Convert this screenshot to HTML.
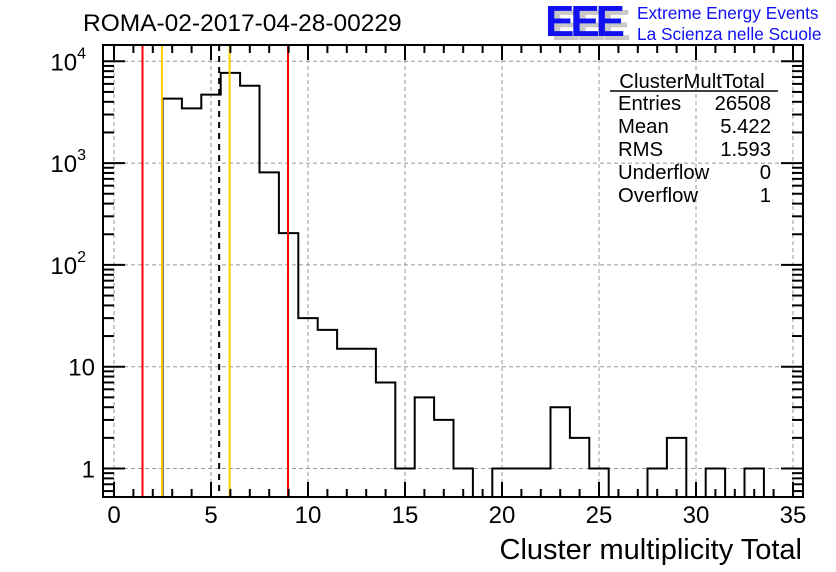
<!DOCTYPE html>
<html><head><meta charset="utf-8"><style>
body{margin:0;background:#fff;width:836px;height:572px;overflow:hidden}
svg{display:block;font-family:"Liberation Sans",sans-serif}
</style></head><body>
<svg id="chart" width="836" height="572" viewBox="0 0 836 572">
<rect width="836" height="572" fill="#fff"/>
<text x="83" y="31" font-size="24.5">ROMA-02-2017-04-28-00229</text>
<g>
<text x="551" y="40" font-size="44" font-weight="bold" fill="#c8c8c8" textLength="80">EEE</text>
<text x="545" y="36" font-size="44" font-weight="bold" fill="#1010f0" textLength="80">EEE</text>
<text x="637" y="19" font-size="17.3" fill="#1010f0">Extreme Energy Events</text>
<text x="637" y="40" font-size="17.3" fill="#1010f0">La Scienza nelle Scuole</text>
</g>
<g id="grid"></g>
<g id="marks"></g>
<g id="axes"></g>
<g font-size="20.3">
<text x="692" y="88" text-anchor="middle">ClusterMultTotal</text>
<line x1="610" y1="91" x2="778" y2="91" stroke="#000" stroke-width="1.5"/>
<text x="618" y="110">Entries</text><text x="771" y="110" text-anchor="end">26508</text>
<text x="618" y="133">Mean</text><text x="771" y="133" text-anchor="end">5.422</text>
<text x="618" y="156">RMS</text><text x="771" y="156" text-anchor="end">1.593</text>
<text x="618" y="179">Underflow</text><text x="771" y="179" text-anchor="end">0</text>
<text x="618" y="202">Overflow</text><text x="771" y="202" text-anchor="end">1</text>
</g>
<text x="802" y="559" font-size="29" text-anchor="end">Cluster multiplicity Total</text>
</svg>
<script>
const binCenters=[0,1,2,3,4,5,6,7,8,9,10,11,12,13,14,15,16,17,18,19,20,21,22,23,24,25,26,27,28,29,30,31,32,33,34,35];
const counts=[0,0,0,4300,3450,4700,7700,5750,810,205,30,23,15,15,7,1,5,3,1,0,1,1,1,4,2,1,0,0,1,2,0,1,0,1,0,0];
const xTicks=[0,5,10,15,20,25,30,35];
const yTickExps=[0,1,2,3,4];
const yTickLabels=["1","10","10²","10³","10⁴"];
const cutLines=[{v:1.47,c:"#ff0000",d:""},{v:2.47,c:"#ffcc00",d:""},{v:5.42,c:"#000",d:"6,5"},{v:5.96,c:"#ffcc00",d:""},{v:8.97,c:"#ff0000",d:""}];
const NS="http://www.w3.org/2000/svg";
const L=103,R=803,T=45,B=497;
const X=v=>114+v*19.4;
const Y=c=>61.3+(4-Math.log10(c))*101.8;
function mk(tag,attrs,parent){const e=document.createElementNS(NS,tag);for(const k in attrs)e.setAttribute(k,attrs[k]);parent.appendChild(e);return e;}
const grid=document.getElementById('grid'),marks=document.getElementById('marks'),axes=document.getElementById('axes');
xTicks.forEach(t=>{const g=mk('line',{x1:X(t),x2:X(t),y1:T,y2:B,stroke:'#999','stroke-dasharray':'4,3','stroke-width':1},grid);

});
yTickExps.forEach(e=>{const g=mk('line',{x1:L,x2:R,y1:Y(Math.pow(10,e)),y2:Y(Math.pow(10,e)),stroke:'#999','stroke-dasharray':'4,3','stroke-width':1},grid);

});
let d='';let started=false;
binCenters.forEach((b,i)=>{const c=counts[i];const x0=X(b-0.5),x1=X(b+0.5);
 const y=c>0?Y(c):B;
 if(!started){d+=`M${x0},${B}`;started=true;}
 d+=`L${x0},${y}L${x1},${y}`;});
d+=`L${X(35.5)},${B}`;
const clip=mk('clipPath',{id:'pc'},marks);mk('rect',{x:L,y:T,width:R-L,height:B-T},clip);
const h=mk('path',{d:d,fill:'none',stroke:'#000','stroke-width':2,'clip-path':'url(#pc)'},marks);


cutLines.forEach(c=>{const l=mk('line',{x1:X(c.v),x2:X(c.v),y1:T,y2:B,stroke:c.c,'stroke-width':2,'stroke-dasharray':c.d},marks);

});
const f=mk('rect',{x:L,y:T,width:R-L,height:B-T,fill:'none',stroke:'#000','stroke-width':2},axes);


for(let v=0;v<=35;v++){const big=v%5===0;const len=big?15:8;
 mk('line',{x1:X(v),x2:X(v),y1:B,y2:B-len,stroke:'#000','stroke-width':2},axes);
 mk('line',{x1:X(v),x2:X(v),y1:T,y2:T+len,stroke:'#000','stroke-width':2},axes);}
xTicks.forEach(t=>{const tx=mk('text',{x:X(t),y:523,'font-size':24,'text-anchor':'middle'},axes);tx.textContent=t;

});
for(let e=-1;e<=4;e++){for(let m=1;m<=9;m++){const c=m*Math.pow(10,e);const y=Y(c);if(y<T||y>B)continue;const len=m===1?22:11;
 mk('line',{x1:L,x2:L+len,y1:y,y2:y,stroke:'#000','stroke-width':2},axes);
 mk('line',{x1:R,x2:R-len,y1:y,y2:y,stroke:'#000','stroke-width':2},axes);}}
yTickExps.forEach((e,i)=>{const y=Y(Math.pow(10,e));let tx;
 if(e>=2){tx=mk('text',{x:86,y:y+9,'font-size':24,'text-anchor':'end'},axes);
  tx.innerHTML='10<tspan font-size="16" dy="-12">'+e+'</tspan>';}
 else{tx=mk('text',{x:95,y:y+9,'font-size':24,'text-anchor':'end'},axes);tx.textContent=yTickLabels[i];}
 
 });
</script>
</body></html>
